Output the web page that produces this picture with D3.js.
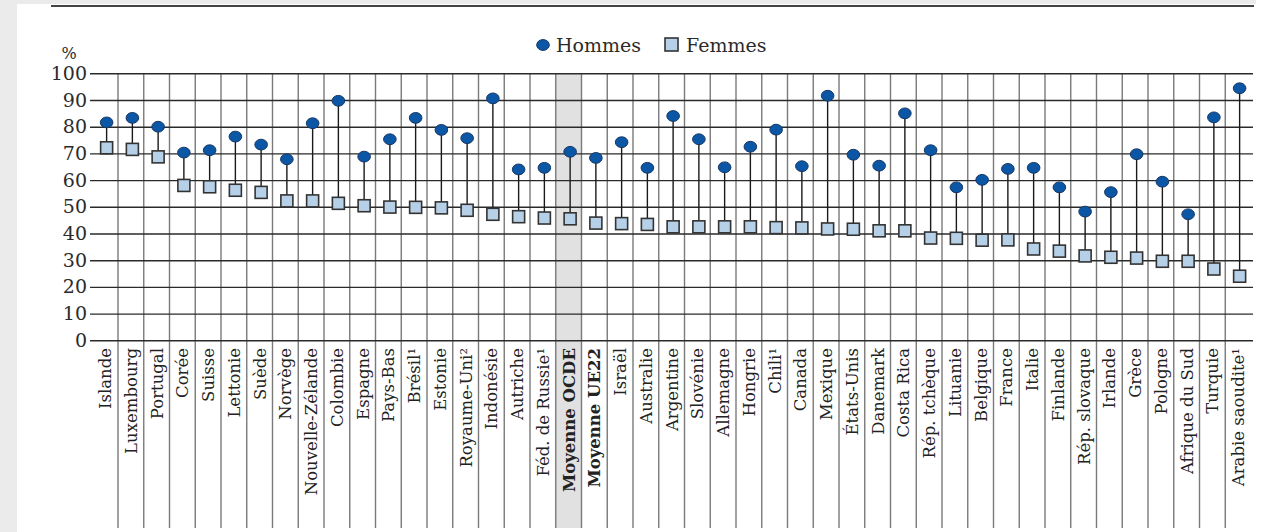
<!DOCTYPE html>
<html>
<head>
<meta charset="utf-8">
<script src="https://cdn.jsdelivr.net/npm/d3@7"></script>
<style>
  body { margin: 0; background: #fff; }
  svg { display: block; }
</style>
</head>
<body>
<div id="chart"></div>
<script>
// Countries, in the order of the picture
const categories = [
  "Islande", "Luxembourg", "Portugal", "Corée", "Suisse", "Lettonie", "Suède",
  "Norvège", "Nouvelle-Zélande", "Colombie", "Espagne", "Pays-Bas", "Brésil¹",
  "Estonie", "Royaume-Uni²", "Indonésie", "Autriche", "Féd. de Russie¹",
  "Moyenne OCDE", "Moyenne UE22", "Israël", "Australie", "Argentine", "Slovénie",
  "Allemagne", "Hongrie", "Chili¹", "Canada", "Mexique", "États-Unis", "Danemark",
  "Costa Rica", "Rép. tchèque", "Lituanie", "Belgique", "France", "Italie",
  "Finlande", "Rép. slovaque", "Irlande", "Grèce", "Pologne", "Afrique du Sud",
  "Turquie", "Arabie saoudite¹",
];

// Men (circles)
const hommes = [
  81.6, 83.3, 80.0, 70.3, 71.2, 76.3, 73.3, 67.8, 81.3, 89.7, 68.8, 75.3, 83.3,
  78.8, 75.7, 90.6, 64.0, 64.6, 70.6, 68.3, 74.2, 64.6, 84.0, 75.3, 64.8, 72.5,
  78.9, 65.2, 91.6, 69.5, 65.4, 85.0, 71.2, 57.3, 60.1, 64.2, 64.6, 57.3, 48.2,
  55.5, 69.7, 59.4, 47.2, 83.5, 94.4,
];

// Women (squares)
const femmes = [
  72.1, 71.5, 68.7, 58.0, 57.5, 56.2, 55.4, 52.2, 52.2, 51.3, 50.4, 49.9, 49.8,
  49.6, 48.7, 47.2, 46.3, 45.8, 45.5, 43.9, 43.7, 43.4, 42.5, 42.5, 42.5, 42.5,
  42.2, 42.1, 41.7, 41.6, 41.0, 41.0, 38.3, 38.2, 37.5, 37.6, 34.2, 33.4, 31.6,
  31.1, 30.8, 29.6, 29.6, 26.7, 24.0,
];

const yTicks = [0, 10, 20, 30, 40, 50, 60, 70, 80, 90, 100];
const highlighted = "Moyenne OCDE";
const boldLabels = ["Moyenne OCDE", "Moyenne UE22"];

// Display options
const width = 1271;
const height = 532;
const plotLeft = 90;
const plotRight = 1253;
const gridBottom = 528;
const font = "'DejaVu Serif', serif";
const circleFill = "#0b57a6";
const squareFill = "#b6d0e8";
const markerShift = 1.5; // markers sit a touch right of the band centre

const rows = categories.map((c, i) => ({
  name: c,
  hommes: hommes[i],
  femmes: femmes[i],
}));

// Scales
const xScale = d3
  .scaleBand()
  .domain(categories)
  .range([92.25, 1251]);
const yScale = d3.scaleLinear().domain([0, 100]).range([340.3, 73.3]);
const cx = (name) => xScale(name) + xScale.bandwidth() / 2 + markerShift;

const svg = d3
  .select("#chart")
  .append("svg")
  .attr("width", width)
  .attr("height", height)
  .attr("viewBox", [0, 0, width, height]);

// Grey page frame
svg.append("rect").attr("x", 0).attr("y", 0).attr("width", 17).attr("height", height).attr("fill", "#ebebeb");
svg.append("rect").attr("x", 0).attr("y", 0).attr("width", 1256).attr("height", 4).attr("fill", "#ebebeb");
svg
  .append("line")
  .attr("x1", 51)
  .attr("x2", 1254)
  .attr("y1", 6)
  .attr("y2", 6)
  .attr("stroke", "#444")
  .attr("stroke-width", 2);

// Highlight band for the OECD average
svg
  .append("rect")
  .attr("x", xScale(highlighted))
  .attr("y", yScale(100))
  .attr("width", xScale.bandwidth())
  .attr("height", gridBottom - yScale(100))
  .attr("fill", "#e1e1e1");

// Vertical separators between countries
svg
  .selectAll("sepline")
  .data(categories.slice(1))
  .enter()
  .append("line")
  .attr("x1", (d) => xScale(d))
  .attr("x2", (d) => xScale(d))
  .attr("y1", yScale(100))
  .attr("y2", gridBottom)
  .attr("stroke", "#7a7a7a")
  .attr("stroke-width", 1.4);

// Horizontal grid + y tick labels
const yAxis = d3
  .axisLeft(yScale)
  .tickValues(yTicks)
  .tickSize(-(plotRight - plotLeft))
  .tickPadding(3)
  .tickFormat((d) => d);

const yG = svg
  .append("g")
  .attr("transform", `translate(${plotLeft}, 0)`)
  .call(yAxis);
yG.select(".domain").remove();
yG.selectAll(".tick line").attr("stroke", "#2a2a2a").attr("stroke-width", 1.4);
yG
  .selectAll(".tick text")
  .attr("font-family", font)
  .attr("font-size", 19)
  .attr("fill", "#2b2b2b");

svg
  .append("text")
  .attr("x", 69)
  .attr("y", 59)
  .attr("text-anchor", "middle")
  .attr("font-family", font)
  .attr("font-size", 16)
  .attr("fill", "#2b2b2b")
  .text("%");

// Stems from men to women
svg
  .selectAll("stem")
  .data(rows)
  .enter()
  .append("line")
  .attr("x1", (d) => cx(d.name))
  .attr("x2", (d) => cx(d.name))
  .attr("y1", (d) => yScale(d.hommes))
  .attr("y2", (d) => yScale(d.femmes))
  .attr("stroke", "#1a1a1a")
  .attr("stroke-width", 1.4);

// Women squares
const sq = 12;
svg
  .selectAll("femme")
  .data(rows)
  .enter()
  .append("rect")
  .attr("x", (d) => cx(d.name) - sq / 2)
  .attr("y", (d) => yScale(d.femmes) - sq / 2)
  .attr("width", sq)
  .attr("height", sq)
  .attr("fill", squareFill)
  .attr("stroke", "#333")
  .attr("stroke-width", 1.6);

// Men circles
svg
  .selectAll("homme")
  .data(rows)
  .enter()
  .append("ellipse")
  .attr("cx", (d) => cx(d.name))
  .attr("cy", (d) => yScale(d.hommes))
  .attr("rx", 6.3)
  .attr("ry", 5.4)
  .attr("fill", circleFill)
  .attr("stroke", "#173763")
  .attr("stroke-width", 1);

// Country labels, rotated
svg
  .selectAll("xlabel")
  .data(categories)
  .enter()
  .append("text")
  .attr(
    "transform",
    (d) => `translate(${xScale(d) + xScale.bandwidth() / 2 + 6}, 348) rotate(-90)`
  )
  .attr("text-anchor", "end")
  .attr("font-family", font)
  .attr("font-size", 16.5)
  .attr("font-weight", (d) => (boldLabels.includes(d) ? "bold" : "normal"))
  .attr("fill", "#222")
  .text((d) => d);

// Legend
const legend = svg.append("g").attr("font-family", font).attr("font-size", 19).attr("fill", "#2b2b2b");
legend
  .append("ellipse")
  .attr("cx", 543)
  .attr("cy", 45)
  .attr("rx", 6.3)
  .attr("ry", 5.4)
  .attr("fill", circleFill)
  .attr("stroke", "#173763");
legend.append("text").attr("x", 556).attr("y", 52).text("Hommes");
legend
  .append("rect")
  .attr("x", 665)
  .attr("y", 38)
  .attr("width", 13)
  .attr("height", 13)
  .attr("fill", squareFill)
  .attr("stroke", "#333")
  .attr("stroke-width", 1.6);
legend.append("text").attr("x", 686).attr("y", 52).text("Femmes");
</script>
</body>
</html>
